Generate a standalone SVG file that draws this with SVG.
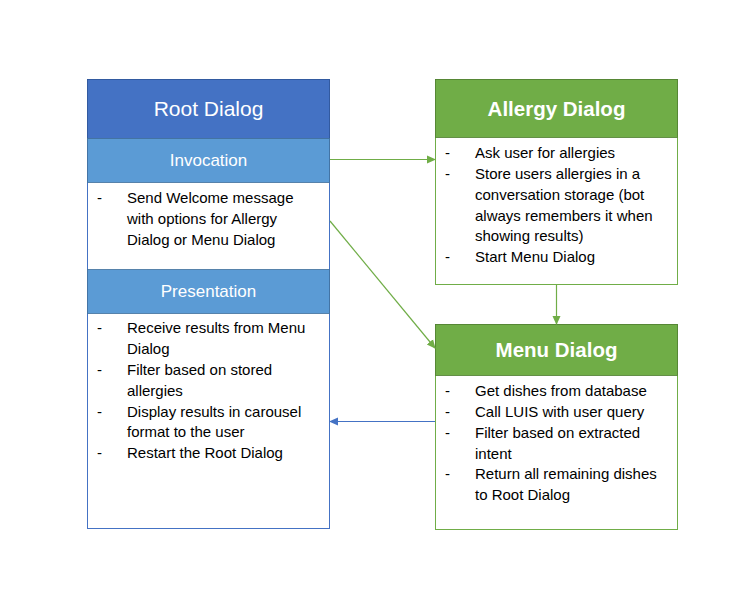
<svg xmlns="http://www.w3.org/2000/svg" width="754" height="603" viewBox="0 0 754 603">
<style>
.body{font-family:"Liberation Sans",Arial,sans-serif;font-size:15px;fill:#000}
.ttl{font-family:"Liberation Sans",Arial,sans-serif;fill:#fff;text-anchor:middle}
.green{stroke:#70AD47;stroke-width:1.2;fill:none}
.blue{stroke:#4472C4;stroke-width:1.2;fill:none}
</style>
<defs>
<marker id="ag" markerWidth="10" markerHeight="10" refX="8" refY="5" orient="auto" markerUnits="userSpaceOnUse"><path d="M0,1 L9,5 L0,9 z" fill="#70AD47"/></marker>
<marker id="ab" markerWidth="10" markerHeight="10" refX="8" refY="5" orient="auto" markerUnits="userSpaceOnUse"><path d="M0,1 L9,5 L0,9 z" fill="#4472C4"/></marker>
</defs>
<rect width="754" height="603" fill="#fff"/>
<g id="root-dialog">
<rect x="87.5" y="79.5" width="242" height="449" fill="#fff" stroke="#4472C4"/>
<rect x="87.5" y="79.5" width="242" height="59" fill="#4472C4" stroke="#2F5597" stroke-width="0.8"/>
<rect x="87.5" y="138.5" width="242" height="44" fill="#5B9BD5" stroke="#41719C" stroke-width="0.8"/>
<rect x="87.5" y="269.5" width="242" height="44" fill="#5B9BD5" stroke="#41719C" stroke-width="0.8"/>
<text class="ttl" x="208.5" y="116" font-size="21">Root Dialog</text>
<text class="ttl" x="208.5" y="166" font-size="17">Invocation</text>
<text class="ttl" x="208.5" y="297" font-size="17">Presentation</text>
<g class="body">
<text x="97" y="203">-</text><text x="127" y="203">Send Welcome message</text>
<text x="127" y="224">with options for Allergy</text>
<text x="127" y="245">Dialog or Menu Dialog</text>
<text x="97" y="333">-</text><text x="127" y="333">Receive results from Menu</text>
<text x="127" y="354">Dialog</text>
<text x="97" y="375">-</text><text x="127" y="375">Filter based on stored</text>
<text x="127" y="396">allergies</text>
<text x="97" y="417">-</text><text x="127" y="417">Display results in carousel</text>
<text x="127" y="437">format to the user</text>
<text x="97" y="458">-</text><text x="127" y="458">Restart the Root Dialog</text>
</g>
</g>
<g id="allergy-dialog">
<rect x="435.5" y="79.5" width="242" height="205" fill="#fff" stroke="#70AD47"/>
<rect x="435.5" y="79.5" width="242" height="58" fill="#70AD47" stroke="#507E32" stroke-width="0.8"/>
<text class="ttl" x="556.5" y="116" font-size="20.5" font-weight="bold">Allergy Dialog</text>
<g class="body">
<text x="445" y="158">-</text><text x="475" y="158">Ask user for allergies</text>
<text x="445" y="179">-</text><text x="475" y="179">Store users allergies in a</text>
<text x="475" y="200">conversation storage (bot</text>
<text x="475" y="221">always remembers it when</text>
<text x="475" y="241">showing results)</text>
<text x="445" y="262">-</text><text x="475" y="262">Start Menu Dialog</text>
</g>
</g>
<g id="menu-dialog">
<rect x="435.5" y="324.5" width="242" height="205" fill="#fff" stroke="#70AD47"/>
<rect x="435.5" y="324.5" width="242" height="51" fill="#70AD47" stroke="#507E32" stroke-width="0.8"/>
<text class="ttl" x="556.5" y="357" font-size="20.5" font-weight="bold">Menu Dialog</text>
<g class="body">
<text x="445" y="396">-</text><text x="475" y="396">Get dishes from database</text>
<text x="445" y="417">-</text><text x="475" y="417">Call LUIS with user query</text>
<text x="445" y="438">-</text><text x="475" y="438">Filter based on extracted</text>
<text x="475" y="459">intent</text>
<text x="445" y="479">-</text><text x="475" y="479">Return all remaining dishes</text>
<text x="475" y="500">to Root Dialog</text>
</g>
</g>
<g id="connectors">
<line class="green" x1="330" y1="159.5" x2="435" y2="159.5" marker-end="url(#ag)"/>
<line class="green" x1="330" y1="221" x2="435" y2="348" marker-end="url(#ag)"/>
<line class="green" x1="556.5" y1="285" x2="556.5" y2="324" marker-end="url(#ag)"/>
<line class="blue" x1="435" y1="421.5" x2="330" y2="421.5" marker-end="url(#ab)"/>
</g>
</svg>
